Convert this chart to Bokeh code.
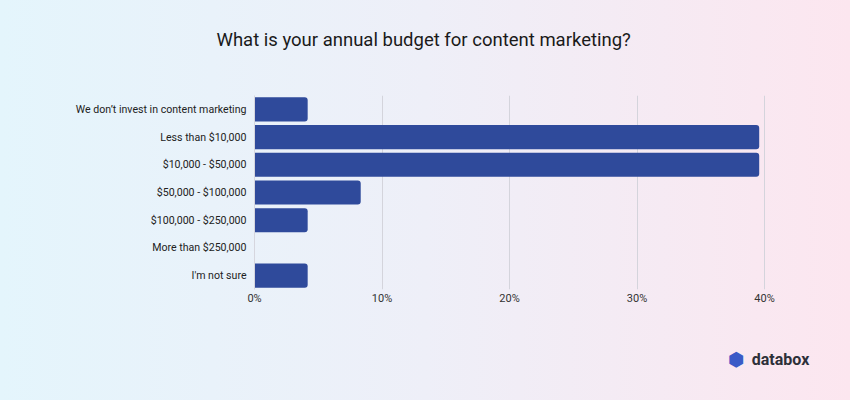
from bokeh.plotting import figure
from bokeh.models import FixedTicker, PrintfTickFormatter, Title, FactorRange, Range1d
from bokeh.embed import file_html
from bokeh.resources import INLINE

categories = [
    "We don\u2019t invest in content marketing",
    "Less than $10,000",
    "$10,000 - $50,000",
    "$50,000 - $100,000",
    "$100,000 - $250,000",
    "More than $250,000",
    "I'm not sure",
]
values = [4.17, 39.58, 39.58, 8.33, 4.17, 0.0, 4.17]
tick_values = [0, 10, 20, 30, 40]

p = figure(
    width=850, height=400,
    y_range=FactorRange(factors=categories[::-1], range_padding=0),
    x_range=Range1d(0, 41.25),
    output_backend="svg", toolbar_location=None,
    min_border_left=254, min_border_right=70,
    min_border_top=95, min_border_bottom=111,
)
p.styles = {"background": "linear-gradient(90deg, #e4f5fc 0%, #eeeff8 50%, #fce6ef 100%)"}
p.background_fill_alpha = 0
p.border_fill_alpha = 0
p.outline_line_color = None

p.hbar(y=categories, right=values, left=0, height=0.87, color="#2f4a9b", line_color=None,
       border_radius=(0, 3, 3, 0))

p.xaxis.ticker = FixedTicker(ticks=tick_values)
p.xaxis.formatter = PrintfTickFormatter(format="%d%%")
p.xaxis.axis_line_color = None
p.xaxis.major_tick_line_color = None
p.xaxis.major_tick_out = 0
p.xaxis.major_tick_in = 0
p.xaxis.minor_tick_line_color = None
p.xaxis.major_label_text_font = "Roboto"
p.xaxis.major_label_text_font_size = "11px"
p.xaxis.major_label_text_color = "#333333"
p.xaxis.major_label_standoff = 2
p.xaxis.axis_label = "databox"
p.xaxis.axis_label_align = "end"
p.xaxis.axis_label_text_font = "Roboto"
p.xaxis.axis_label_text_font_size = "16px"
p.xaxis.axis_label_text_font_style = "bold"
p.xaxis.axis_label_text_color = "#2d3039"
p.xaxis.axis_label_standoff = 42

p.yaxis.axis_line_color = "#d6d6de"
p.yaxis.major_tick_line_color = None
p.yaxis.major_tick_out = 0
p.yaxis.minor_tick_line_color = None
p.yaxis.major_label_text_font = "Roboto"
p.yaxis.major_label_text_font_size = "10.6px"
p.yaxis.major_label_text_color = "#222222"
p.yaxis.major_label_standoff = 8

p.ygrid.grid_line_color = None
p.xgrid.ticker = FixedTicker(ticks=tick_values)
p.xgrid.grid_line_color = "#d4d4dc"
p.xgrid.grid_line_width = 1

spacer = Title(text=" ", standoff=42, text_font_size="1px")
p.add_layout(spacer, "above")

title = Title(text="What is your annual budget for content marketing?",
              align="left", offset=-38, vertical_align="bottom", standoff=0,
              text_font="Roboto", text_font_size="18.5px", text_color="#1a1a1a",
              text_font_style="normal")
p.add_layout(title, "above")

icon = Title(text="\u2B22", align="right", offset=36, vertical_align="top", standoff=-48,
             text_font="DejaVu Sans", text_font_size="19px", text_color="#3a5bc7",
             text_font_style="normal")
p.add_layout(icon, "below")

open("out.html", "w").write(file_html(p, INLINE))
